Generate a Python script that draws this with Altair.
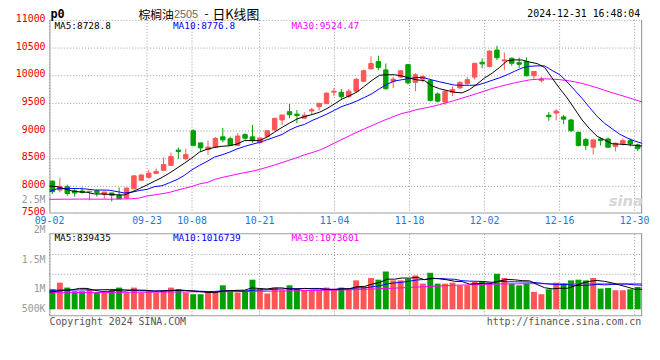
import altair as alt
import pandas as pd

dates = ["09-02","09-03","09-04","09-05","09-06","09-09","09-10","09-11","09-12","09-13",
         "09-18","09-19","09-20","09-23","09-24","09-25","09-26","09-27","09-30",
         "10-08","10-09","10-10","10-11","10-14","10-15","10-16","10-17","10-18",
         "10-21","10-22","10-23","10-24","10-25","10-28","10-29","10-30","10-31",
         "11-01","11-04","11-05","11-06","11-07","11-08","11-11","11-12","11-13","11-14","11-15",
         "11-18","11-19","11-20","11-21","11-22","11-25","11-26","11-27","11-28","11-29",
         "12-02","12-03","12-04","12-05","12-06","12-09","12-10","12-11","12-12","12-13",
         "12-16","12-17","12-18","12-19","12-20","12-23","12-24","12-25","12-26","12-27",
         "12-30","12-31"]

opens = [8095,7933,7993,7920,7915,7905,7920,7850,7880,7840,
         7786,7955,8110,8165,8235,8290,8380,8655,8500,9005,
         8785,8665,8707,8895,8860,8740,8935,8895,8790,8900,
         9020,9200,9350,9305,9232,9362,9440,9495,9702,9700,
         9625,9720,9900,10125,10255,10105,9898,9975,10200,9880,
         9940,9910,9670,9525,9702,9780,9857,9975,10243,10166,
         10465,10268,10315,10237,10255,10000,9916,9285,9325,9255,
         9200,8975,8845,8707,8857,8857,8720,8768,8827,8750]
highs = [8100,8150,8030,7950,7980,7918,7930,7900,7885,7980,
         7975,8200,8220,8300,8320,8520,8610,8700,8680,9030,
         8790,8830,8890,9055,8900,8960,8960,9110,8880,9010,
         9235,9295,9490,9380,9340,9420,9510,9700,9780,9760,
         9760,9960,10110,10350,10360,10220,9975,10095,10210,10045,
         10010,9930,9700,9735,9805,9900,9975,10230,10315,10460,
         10540,10420,10330,10330,10330,10080,9980,9345,9400,9290,
         9220,8990,8875,8845,8880,8880,8790,8860,8860,8770]
lows = [7862,7890,7830,7815,7870,7745,7815,7780,7730,7770,
        7770,7950,8100,8140,8220,8285,8370,8500,8470,8725,
        8640,8570,8700,8795,8735,8735,8840,8790,8770,8895,
        9005,9110,9230,9140,9225,9300,9370,9490,9630,9580,
        9600,9700,9890,10110,10100,9750,9780,9960,9840,9720,
        9880,9535,9520,9470,9630,9760,9840,9930,10135,10150,
        10285,10100,10180,10140,9990,9940,9880,9185,9195,9125,
        8990,8720,8660,8575,8737,8700,8635,8740,8720,8640]
closes = [7904,8000,7870,7880,7890,7912,7885,7898,7840,7775,
          7970,8190,8205,8240,8270,8395,8540,8630,8575,8740,
          8695,8710,8868,8840,8745,8910,8870,8830,8875,9005,
          9230,9290,9295,9280,9285,9385,9500,9685,9719,9620,
          9720,9935,10090,10220,10150,9765,9939,10090,9870,10018,
          9985,9555,9540,9720,9750,9880,9928,10225,10214,10446,
          10325,10286,10225,10207,10000,10077,9940,9260,9360,9215,
          9005,8740,8740,8840,8827,8707,8780,8827,8768,8680]
volumes = [842000,1120000,913000,759000,759000,842000,705000,705000,801000,913000,
           705000,913000,705000,759000,705000,801000,913000,842000,705000,635000,
           635000,759000,759000,1008000,759000,705000,790000,1245000,871000,664000,
           913000,801000,1008000,871000,801000,801000,801000,913000,842000,913000,
           871000,1216000,967000,1315000,1245000,1589000,1216000,1216000,1286000,1423000,
           1079000,1535000,1079000,1079000,1120000,1008000,1008000,1149000,1191000,1120000,
           1494000,1315000,1079000,1008000,1079000,734000,635000,842000,1120000,1079000,
           1216000,1245000,1216000,1315000,871000,900000,801000,801000,842000,942000]

ma5 = [8005,7995,7955,7917,7900,7893,7862,7862,7855,7845,
       7845,7900,7960,8025,8093,8160,8240,8330,8420,8515,
       8620,8670,8705,8725,8733,8765,8827,8827,8827,8890,
       8980,9066,9144,9218,9262,9298,9340,9407,9492,9578,
       9638,9706,9810,9917,10008,10018,10018,9995,9955,9925,
       9911,9815,9765,9733,9700,9690,9750,9850,9960,10045,
       10150,10270,10286,10284,10246,10220,10150,9960,9770,9600,
       9400,9200,9040,8905,8840,8770,8762,8754,8740,8729]
ma10 = [7910,7955,7960,7960,7960,7950,7934,7934,7930,7905,
        7880,7895,7925,7945,7995,8010,8065,8123,8200,8300,
        8380,8450,8530,8570,8618,8676,8722,8760,8795,8842,
        8890,8937,9018,9080,9120,9190,9247,9308,9376,9445,
        9490,9545,9608,9676,9766,9846,9905,9928,9950,9970,
        9960,9923,9890,9860,9830,9827,9827,9830,9870,9917,
        9962,10017,10080,10140,10170,10178,10178,10095,10020,9890,
        9740,9590,9425,9265,9140,9040,8944,8875,8820,8777]
ma30 = [7765,7766,7768,7768,7770,7770,7768,7768,7768,7770,
        7772,7775,7790,7826,7846,7867,7890,7930,7965,7998,
        8044,8070,8123,8160,8190,8220,8247,8274,8305,8345,
        8385,8430,8475,8519,8570,8610,8655,8715,8783,8850,
        8915,8980,9040,9100,9160,9215,9270,9318,9350,9388,
        9416,9443,9478,9515,9553,9595,9636,9679,9723,9768,
        9805,9838,9871,9898,9925,9935,9944,9939,9929,9912,
        9890,9860,9823,9783,9737,9692,9653,9611,9570,9524]

vol_ma5 = [720000,760000,800000,820000,879000,879000,796000,754000,762000,793000,
           766000,807000,807000,799000,757000,777000,777000,804000,793000,779000,
           746000,715000,699000,759000,784000,798000,804000,901000,874000,855000,
           897000,899000,851000,851000,879000,856000,856000,837000,832000,854000,
           868000,951000,962000,1056000,1123000,1266000,1266000,1316000,1310000,1346000,
           1244000,1308000,1280000,1239000,1178000,1165000,1060000,1074000,1096000,1096000,
           1193000,1254000,1240000,1204000,1195000,1043000,907000,860000,882000,882000,
           978000,1100000,1175000,1214000,1173000,1109000,1021000,938000,843000,839435]
vol_ma10 = [800000,805000,810000,812000,815000,818000,820000,825000,830000,836000,
            822000,802000,780000,780000,775000,771000,792000,805000,796000,768000,
            761000,746000,751000,776000,781000,772000,759000,800000,816000,819000,
            847000,851000,876000,862000,867000,876000,877000,844000,841000,866000,
            862000,903000,899000,944000,988000,1067000,1108000,1139000,1183000,1234000,
            1255000,1287000,1298000,1274000,1262000,1204000,1184000,1177000,1167000,1137000,
            1179000,1157000,1157000,1150000,1145000,1118000,1080000,1050000,1043000,1038000,
            1010000,1003000,1017000,1048000,1027000,1043000,1060000,1056000,1028000,1016739]
vol_ma30 = [700000,700000,702000,703000,705000,706000,707000,708000,710000,712000,
            714000,716000,718000,720000,722000,724000,726000,728000,730000,732000,
            734000,736000,738000,740000,742000,745000,748000,752000,756000,760000,
            765000,770000,775000,780000,785000,790000,795000,800000,806000,812000,
            820000,830000,840000,850000,862000,876000,890000,905000,920000,935000,
            950000,965000,980000,995000,1008000,1020000,1030000,1040000,1048000,1055000,
            1062000,1068000,1072000,1075000,1078000,1078000,1076000,1074000,1072000,1071000,
            1070000,1070000,1071000,1072000,1072000,1073000,1073000,1074000,1074000,1073601]

price_ticks = [7500, 8000, 8500, 9000, 9500, 10000, 10500, 11000]
date_ticks = ["09-02", "09-23", "10-08", "10-21", "11-04", "11-18", "12-02", "12-16", "12-30"]
vol_tick_labels = ["2.5M", "2M", "1.5M", "1M", "500K"]

RED = "#ff5555"
GREEN = "#00a000"
GRID = "#999999"
FRAME = "#999999"
MONO = "DejaVu Sans Mono"

W, H = 600, 300
n = len(dates)
SLOT_PX = W / n

PPX = 0.056                      # px per price unit
P_TOP = 11000 + 0.5 / PPX
P_BOT = P_TOP - H / PPX
VPX = 24.1e-6                    # px per lot
V0 = 293.0                       # view y of zero volume
V_TOP = V0 / VPX
V_BOT = -(H - V0) / VPX


def price_at(yv):
    return P_TOP - yv / PPX


def vol_at(yv):
    return (V0 - yv) / VPX


def slot_at(xv):
    return xv / SLOT_PX


df = pd.DataFrame({
    "date": dates, "open": opens, "high": highs, "low": lows, "close": closes,
    "volume": volumes, "ma5": ma5, "ma10": ma10, "ma30": ma30,
    "vma5": vol_ma5, "vma10": vol_ma10, "vma30": vol_ma30,
})
df["slot"] = list(range(n))
df["bx0"] = df["slot"] + 0.1
df["bx1"] = df["slot"] + 0.7
df["vx0"] = df["slot"] + 0.0
df["vx1"] = df["slot"] + 0.8
df["xc"] = df["slot"] + 0.4
df["xl"] = df["slot"] * n / (n - 1)
df["dir"] = ["up" if c >= o else "down" for o, c in zip(opens, closes)]
df["blo"] = df[["open", "close"]].min(axis=1)
df["bhi"] = df[["open", "close"]].max(axis=1)
df["zero"] = 0

XS = alt.Scale(domain=[0, n], nice=False, zero=False)
PY = alt.Scale(domain=[P_BOT, P_TOP], nice=False, zero=False)
VY = alt.Scale(domain=[V_BOT, V_TOP], nice=False, zero=False)
CS = alt.Scale(domain=["up", "down"], range=[RED, GREEN])

base = alt.Chart(df)
tick_slots = [dates.index(d) for d in date_ticks]
tick_pos = [s * n / (n - 1) for s in tick_slots]


def hline(value, yscale, color, dash=None, tag="h"):
    kw = {"color": color, "strokeWidth": 1}
    if dash:
        kw["strokeDash"] = dash
    return base.transform_calculate(**{tag: repr(float(value))}).mark_line(**kw).encode(
        x=alt.X("xl:Q", scale=XS, axis=None),
        y=alt.Y(f"{tag}:Q", scale=yscale, axis=None),
    )


def vrules(slots, xfield, top, bot, yscale, color, dash=None, tag="v"):
    kw = {"color": color, "strokeWidth": 1}
    if dash:
        kw["strokeDash"] = dash
    calc = {f"{tag}t": repr(float(top)), f"{tag}b": repr(float(bot))}
    if xfield is None:
        xfield = f"{tag}x"
        calc[xfield] = repr(float(slots[1]))
        slots = slots[:1]
    return base.transform_filter(f"indexof({list(slots)}, datum.slot) >= 0").transform_calculate(**calc).mark_rule(**kw).encode(
        x=alt.X(f"{xfield}:Q", scale=XS, axis=None),
        y=alt.Y(f"{tag}t:Q", scale=yscale, axis=None), y2=f"{tag}b:Q",
    )


def ma_line(field, color, yscale):
    return base.mark_line(color=color, strokeWidth=1).encode(
        x=alt.X("xl:Q", scale=XS, axis=None),
        y=alt.Y(f"{field}:Q", scale=yscale, axis=None),
    )


# ---------------- price panel ----------------
p_decor = [hline(p, PY, GRID, [1, 2], tag=f"pg{i}") for i, p in enumerate(price_ticks) if p > 7500]
p_decor += [
    vrules(tick_slots, "xl", price_at(0), price_at(195), PY, GRID, [1, 2], tag="pv"),
    hline(price_at(195.5), PY, FRAME, tag="pfb"),
    vrules([0, slot_at(0.5)], None, price_at(0), price_at(195.5), PY, FRAME, tag="pfl"),
    vrules([0, slot_at(599.5)], None, price_at(0), price_at(195.5), PY, "#8c8c8c", tag="pfr"),
]
wicks = base.mark_rule(strokeWidth=1).encode(
    x=alt.X("xc:Q", scale=XS, axis=None),
    y=alt.Y("low:Q", scale=PY, axis=None), y2="high:Q",
    color=alt.Color("dir:N", scale=CS, legend=None),
)
bodies = base.mark_rect(strokeWidth=1).encode(
    x=alt.X("bx0:Q", scale=XS, axis=None), x2="bx1:Q",
    y=alt.Y("blo:Q", scale=PY, axis=None), y2="bhi:Q",
    color=alt.Color("dir:N", scale=CS, legend=None),
    stroke=alt.Color("dir:N", scale=CS, legend=None),
)
plabels = alt.Chart(pd.DataFrame({"p": price_ticks})).mark_text(
    font=MONO, fontSize=10, color="#e60000", align="right", baseline="middle", dy=-1.5
).encode(y=alt.Y("p:Q", scale=PY, axis=None), x=alt.value(-4), text=alt.Text("p:Q", format="d"))

price = alt.layer(
    *p_decor, plabels, wicks, bodies,
    ma_line("ma30", "#ff00ff", PY), ma_line("ma10", "#0000ff", PY), ma_line("ma5", "#000000", PY),
)

# ---------------- volume panel ----------------
v_decor = [hline(vol_at(y), VY, GRID, [1, 2], tag=f"vg{i}") for i, y in enumerate([237.5, 257.5])]
v_decor += [
    vrules(tick_slots, "xl", vol_at(217), vol_at(299), VY, GRID, [1, 2], tag="vv"),
    hline(vol_at(216.5), VY, FRAME, tag="vft"),
    hline(vol_at(299.5), VY, FRAME, tag="vfb"),
    vrules([0, slot_at(0.5)], None, vol_at(216.5), vol_at(299.5), VY, FRAME, tag="vfl"),
    vrules([0, slot_at(599.5)], None, vol_at(216.5), vol_at(299.5), VY, "#8c8c8c", tag="vfr"),
]
vbars = base.mark_rect().encode(
    x=alt.X("vx0:Q", scale=XS, axis=None), x2="vx1:Q",
    y=alt.Y("volume:Q", scale=VY, axis=None), y2="zero:Q",
    color=alt.Color("dir:N", scale=CS, legend=None),
)
volume = alt.layer(
    *v_decor, vbars,
    ma_line("vma30", "#ff00ff", VY), ma_line("vma10", "#0000ff", VY), ma_line("vma5", "#000000", VY),
)

# ---------------- texts ----------------
one = pd.DataFrame({"k": [0]})


def txt(text, x, y, **kw):
    return alt.Chart(one).mark_text(text=text, **kw).encode(x=alt.value(x), y=alt.value(y))


xlabels = alt.Chart(pd.DataFrame({"pos": tick_pos, "label": date_ticks})).mark_text(
    font=MONO, fontSize=10, color="#1f78d1", align="center", baseline="middle"
).encode(x=alt.X("pos:Q", scale=XS, axis=None), y=alt.value(203.7), text="label:N")

texts = [
    xlabels,
    txt("sina", 601, 183, font="DejaVu Sans", fontSize=15, fontStyle="italic", fontWeight="bold",
        align="right", baseline="middle", color="#d6d6d6"),
    txt("p0", 1, -2, font=MONO, fontSize=12, fontWeight="bold", align="left", baseline="alphabetic", color="#000"),
    txt("棕榈油", 90, -1, font="Noto Sans CJK SC", fontSize=12, align="left", baseline="alphabetic", color="#000"),
    txt("2505", 126, -2, font="Liberation Sans", fontSize=11, align="left", baseline="alphabetic", color="#666"),
    txt("-", 157, -2.5, font="DejaVu Sans", fontSize=11, align="left", baseline="alphabetic", color="#000"),
    txt("日K线图", 165, -1, font="Noto Sans CJK SC", fontSize=13, align="left", baseline="alphabetic", color="#000"),
    txt("2024-12-31 16:48:04", 598, -2.5, font=MONO, fontSize=10, align="right", baseline="alphabetic", color="#000"),
    txt("MA5:8728.8", 5, 6.5, font=MONO, fontSize=9.5, align="left", baseline="middle", color="#000000"),
    txt("MA10:8776.8", 125, 6.5, font=MONO, fontSize=9.5, align="left", baseline="middle", color="#0000ff"),
    txt("MA30:9524.47", 245, 6.5, font=MONO, fontSize=9.5, align="left", baseline="middle", color="#ff00ff"),
    txt("MA5:839435", 5, 220.5, font=MONO, fontSize=9.5, align="left", baseline="middle", color="#000000"),
    txt("MA10:1016739", 125, 220.5, font=MONO, fontSize=9.5, align="left", baseline="middle", color="#0000ff"),
    txt("MA30:1073601", 245, 220.5, font=MONO, fontSize=9.5, align="left", baseline="middle", color="#ff00ff"),
    txt("Copyright 2024 SINA.COM", 0, 305.5, font=MONO, fontSize=10, align="left", baseline="middle", color="#555"),
    txt("http://finance.sina.com.cn", 599, 306, font=MONO, fontSize=10, align="right", baseline="middle", color="#555"),
]
for lab, py in zip(vol_tick_labels, [182.7, 213, 242.7, 272.7, 292.7]):
    texts.append(txt(lab, -4, py, font=MONO, fontSize=10, align="right", baseline="middle", color="#999999"))

chart = alt.layer(price, volume, *texts).resolve_scale(y="independent").properties(
    width=W, height=H,
    padding={"left": 42, "top": 10, "right": 10, "bottom": 22},
    autosize=alt.AutoSizeParams(type="none"),
).configure_view(strokeWidth=0)

chart.save("out.html", embed_options={"renderer": "svg", "actions": False})
